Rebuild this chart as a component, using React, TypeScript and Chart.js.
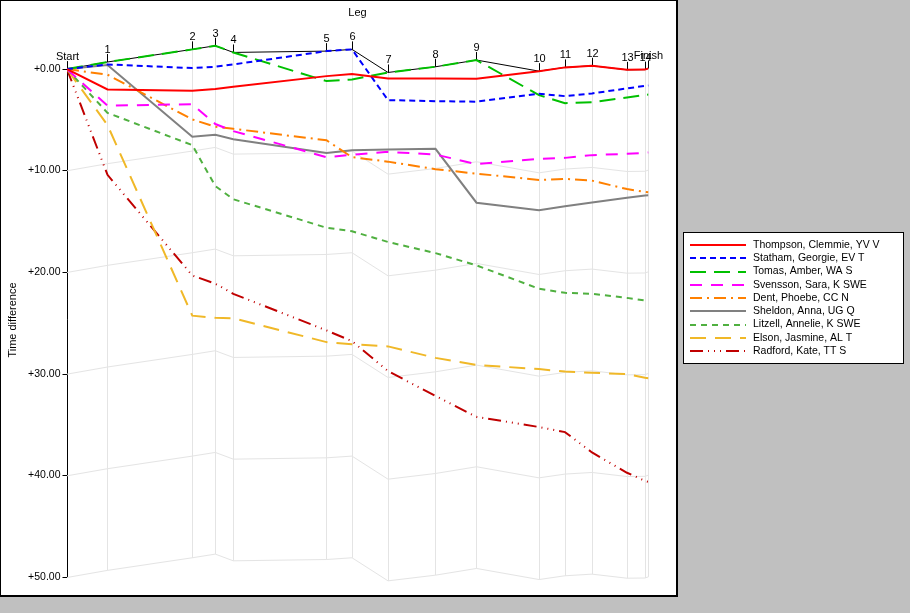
import { useEffect, useRef } from 'react';
import { Chart, registerables } from 'chart.js';

Chart.register(...registerables);

// controls along the course, and where each sits on the x axis (leader's cumulative time)
const LEGS = ['Start', '1', '2', '3', '4', '5', '6', '7', '8', '9', '10', '11', '12', '13', '14', 'Finish'];
const LEG_POS = [0, 40.5, 125.3, 148.3, 166.3, 259.5, 285, 321, 368.5, 409.5, 472, 498, 525, 560, 578, 581.5];

// time difference (minutes) at each control
const THOMPSON = [0, 2.0, 2.13, 1.95, 1.74, 0.69, 0.49, 0.92, 0.92, 0.95, 0.2, -0.17, -0.33, 0.07, 0.05, -0.07];
const STATHAM = [0, -0.46, -0.1, -0.23, -0.46, -1.77, -1.94, 3.05, 3.15, 3.2, 2.43, 2.66, 2.39, 1.9, 1.64, 1.62];
const TOMAS = [0, -0.7, -1.94, -2.3, -1.64, 1.18, 1.03, 0.33, -0.23, -0.89, 2.56, 3.35, 3.25, 2.8, 2.53, 2.5];
const SVENSSON = [0, 3.6, 3.45, 5.4, 6.1, 8.66, 8.43, 8.14, 8.4, 9.35, 8.83, 8.73, 8.46, 8.33, 8.24, 8.2];
const DENT = [0, 0.55, 4.95, 5.67, 5.87, 7.0, 8.66, 9.1, 9.84, 10.28, 10.9, 10.8, 10.97, 11.8, 12.07, 12.1];
const SHELDON = [0, -0.4, 6.66, 6.46, 6.9, 8.24, 7.97, 7.9, 7.84, 13.14, 13.88, 13.48, 13.12, 12.66, 12.43, 12.4];
const LITZELL = [0, 4.3, 7.48, 11.5, 12.8, 15.6, 15.95, 17.0, 18.1, 19.3, 21.6, 22.0, 22.1, 22.5, 22.75, 22.8];
const ELSON = [0, 5.5, 24.25, 24.46, 24.5, 26.85, 27.05, 27.27, 28.4, 29.1, 29.5, 29.75, 29.86, 30.0, 30.35, 30.4];
const RADFORD = [0, 10.4, 20.3, 21.1, 22.1, 25.7, 26.75, 29.7, 32.15, 34.2, 35.2, 35.7, 37.7, 39.7, 40.5, 40.6];

const RUNNERS = [
  'Thompson, Clemmie, YV V',
  'Statham, Georgie, EV T',
  'Tomas, Amber, WA S',
  'Svensson, Sara, K SWE',
  'Dent, Phoebe, CC N',
  'Sheldon, Anna, UG Q',
  'Litzell, Annelie, K SWE',
  'Elson, Jasmine, AL T',
  'Radford, Kate, TT S',
];
const SERIES = [THOMPSON, STATHAM, TOMAS, SVENSSON, DENT, SHELDON, LITZELL, ELSON, RADFORD];

const Y_TICKS = [0, 10, 20, 30, 40, 50];
const GRID_STEPS = [10, 20, 30, 40, 50];

const COLORS = ['#ff0000', '#0000ff', '#00c000', '#ff00ff', '#ff8000', '#808080', '#50b040', '#f0b828', '#c00000'];
const DASHES = [[], [6, 4], [16, 8], [12, 9], [12, 5, 2, 5], [], [6, 5], [16, 9], [13, 5, 1, 5, 1, 5, 1, 5]];

const FONT = "'Liberation Sans', Arial, sans-serif";

// best time at each control = the reference line the grid follows
const LEADER = LEG_POS.map((_, i) => Math.min(...SERIES.map((s) => s[i])));

const decorations = {
  id: 'decorations',
  beforeDraw(chart: any) {
    const { ctx } = chart;
    ctx.save();
    ctx.fillStyle = '#c0c0c0';
    ctx.fillRect(0, 0, 910, 613);
    // plot frame
    ctx.fillStyle = '#ffffff';
    ctx.fillRect(0, 0, 677, 596);
    ctx.fillStyle = '#000000';
    ctx.fillRect(0, 0, 677, 1);
    ctx.fillRect(0, 0, 1, 596);
    ctx.fillRect(676, 0, 2, 597);
    ctx.fillRect(0, 595, 678, 2);

    // legend box
    ctx.fillStyle = '#ffffff';
    ctx.fillRect(683, 232, 221, 132);
    ctx.fillStyle = '#000000';
    ctx.fillRect(683, 232, 221, 1);
    ctx.fillRect(683, 232, 1, 132);
    ctx.fillRect(903, 232, 1, 132);
    ctx.fillRect(683, 363, 221, 1);

    ctx.font = `10.5px ${FONT}`;
    ctx.textBaseline = 'middle';
    RUNNERS.forEach((name, i) => {
      const y = 245 + i * 13.25;
      ctx.strokeStyle = COLORS[i];
      ctx.lineWidth = 2;
      ctx.setLineDash(DASHES[i]);
      ctx.beginPath();
      ctx.moveTo(690, Math.round(y));
      ctx.lineTo(746, Math.round(y));
      ctx.stroke();
      ctx.setLineDash([]);
      ctx.fillStyle = '#000';
      ctx.textAlign = 'left';
      ctx.fillText(name, 753, y);
    });

    // titles
    ctx.textAlign = 'center';
    ctx.font = `11px ${FONT}`;
    ctx.fillText('Leg', 357.5, 13);
    ctx.save();
    ctx.translate(13, 320);
    ctx.rotate(-Math.PI / 2);
    ctx.fillText('Time difference', 0, 0);
    ctx.restore();
    ctx.restore();
  },
  beforeDatasetsDraw(chart: any) {
    const { ctx } = chart;
    const xs = chart.scales.x;
    const ys = chart.scales.y;
    ctx.save();
    ctx.lineWidth = 1;

    // vertical lines at each control, hanging from the leader line
    LEG_POS.forEach((p, i) => {
      const px = Math.floor(xs.getPixelForValue(p)) + 0.5;
      const top = ys.getPixelForValue(LEADER[i]);
      const bottom = ys.getPixelForValue(LEADER[i] + 50);
      if (i > 0) {
        ctx.strokeStyle = '#e4e4e4';
        ctx.beginPath();
        ctx.moveTo(px, top);
        ctx.lineTo(px, bottom);
        ctx.stroke();
      }
      ctx.strokeStyle = '#000';
      ctx.beginPath();
      ctx.moveTo(px, top - 8);
      ctx.lineTo(px, top);
      ctx.stroke();
      ctx.fillStyle = '#000';
      ctx.font = `11px ${FONT}`;
      ctx.textAlign = 'center';
      ctx.textBaseline = 'alphabetic';
      ctx.fillText(LEGS[i], px, top - 9);
    });

    // y axis
    const ax = Math.floor(xs.getPixelForValue(0)) + 0.5;
    ctx.strokeStyle = '#000';
    ctx.beginPath();
    ctx.moveTo(ax, ys.getPixelForValue(0) - 7);
    ctx.lineTo(ax, ys.getPixelForValue(50));
    ctx.stroke();
    ctx.font = `10.5px ${FONT}`;
    ctx.textAlign = 'right';
    ctx.textBaseline = 'middle';
    Y_TICKS.forEach((v) => {
      const py = Math.floor(ys.getPixelForValue(v)) + 0.5;
      ctx.beginPath();
      ctx.moveTo(ax - 5, py);
      ctx.lineTo(ax, py);
      ctx.stroke();
      ctx.fillText('+' + v.toFixed(2), ax - 7, py);
    });
    ctx.restore();
  },
};

export default function App() {
  const canvasRef = useRef<HTMLCanvasElement | null>(null);

  useEffect(() => {
    document.body.style.margin = '0';
    document.body.style.background = '#c0c0c0';
    if (!canvasRef.current) return;

    const runnerSets = SERIES.map((values, i) => ({
      label: RUNNERS[i],
      data: LEG_POS.map((p, j) => ({ x: p, y: values[j] })),
      borderColor: COLORS[i],
      borderWidth: 2,
      borderDash: DASHES[i],
      borderCapStyle: 'butt',
      pointRadius: 0,
      tension: 0,
      fill: false,
      order: 0,
    }));

    const leaderSet = {
      label: 'Leader',
      data: LEG_POS.map((p, j) => ({ x: p, y: LEADER[j] })),
      borderColor: '#000000',
      borderWidth: 1,
      pointRadius: 0,
      tension: 0,
      fill: false,
      order: 1,
    };

    const gridSets = GRID_STEPS.map((step) => ({
      label: 'grid' + step,
      data: LEG_POS.map((p, j) => ({ x: p, y: LEADER[j] + step })),
      borderColor: '#e4e4e4',
      borderWidth: 1,
      pointRadius: 0,
      tension: 0,
      fill: false,
      clip: false,
      order: 2,
    }));

    const chart = new Chart(canvasRef.current, {
      type: 'line',
      data: { datasets: [...runnerSets, leaderSet, ...gridSets] as any },
      options: {
        responsive: false,
        animation: false,
        layout: { padding: { left: 67, right: 261.5, top: 2, bottom: 35.5 } },
        scales: {
          x: { type: 'linear', min: 0, max: 581.5, display: false },
          y: { type: 'linear', min: -6.6, max: 50, reverse: true, display: false },
        },
        plugins: {
          legend: { display: false },
          title: { display: false },
          tooltip: { enabled: false },
        },
      },
      plugins: [decorations],
    });

    return () => {
      chart.destroy();
    };
  }, []);

  return (
    <div style={{ width: 910, height: 613 }}>
      <canvas ref={canvasRef} width={910} height={613} style={{ display: 'block' }} />
    </div>
  );
}
